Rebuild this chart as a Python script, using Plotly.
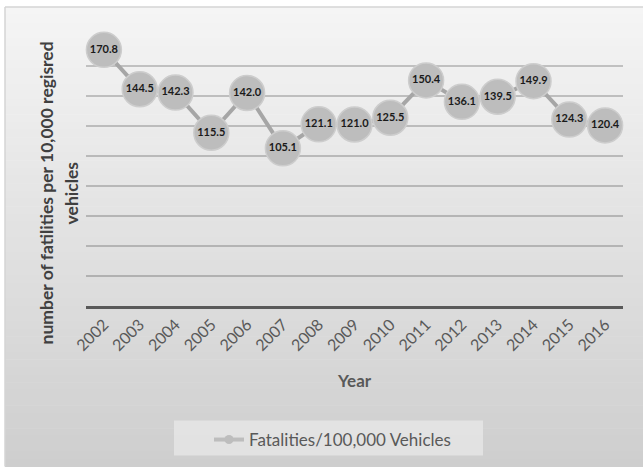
import plotly.graph_objects as go

# Road fatality rate by year
years = ["2002", "2003", "2004", "2005", "2006", "2007", "2008", "2009",
         "2010", "2011", "2012", "2013", "2014", "2015", "2016"]
rates = [170.8, 144.5, 142.3, 115.5, 142.0, 105.1, 121.1, 121.0,
         125.5, 150.4, 136.1, 139.5, 149.9, 124.3, 120.4]
series_name = "Fatalities/100,000 Vehicles"

W, H = 643, 468
L, R, T, B = 86, 20, 36, 161
PW, PH = W - L - R, H - T - B

FONT = "Lato, 'Open Sans', sans-serif"


def px_x(p):
    return (p - L) / PW


def px_y(p):
    return (H - B - p) / PH


def grey(v):
    v = int(round(v))
    return f"rgb({v},{v},{v})"


shapes = []
# vertical gradient for the chart area
top_px, bot_px = 7, 468
c_top, c_bot = 245, 206
n = 60
for i in range(n):
    y0 = top_px + (bot_px - top_px) * i / n
    y1 = top_px + (bot_px - top_px) * (i + 1) / n + 0.6
    c = c_top + (c_bot - c_top) * (i + 0.5) / n
    shapes.append(dict(type="rect", xref="paper", yref="paper", layer="below",
                       x0=px_x(5), x1=px_x(643), y0=px_y(y0), y1=px_y(y1),
                       fillcolor=grey(c), line=dict(width=0)))
# chart border (left and top)
shapes.append(dict(type="line", xref="paper", yref="paper", layer="below",
                   x0=px_x(5), x1=px_x(643), y0=px_y(7), y1=px_y(7),
                   line=dict(color="#d4d4d4", width=1.5)))
shapes.append(dict(type="line", xref="paper", yref="paper", layer="below",
                   x0=px_x(5), x1=px_x(5), y0=px_y(7), y1=px_y(468),
                   line=dict(color="#d4d4d4", width=1.5)))
# legend box
shapes.append(dict(type="rect", xref="paper", yref="paper", layer="below",
                   x0=px_x(174), x1=px_x(483), y0=px_y(422), y1=px_y(457),
                   fillcolor="rgba(232,232,232,0.75)", line=dict(width=0)))

fig = go.Figure()
fig.add_trace(go.Scatter(
    x=years, y=rates, mode="lines+markers+text",
    text=[f"{v:.1f}" for v in rates], textposition="middle center",
    textfont=dict(family=FONT, size=11, color="#1a1a1a", weight="bold"),
    line=dict(color="#a6a6a6", width=4),
    marker=dict(size=35, color="#bdbdbd",
                line=dict(color="#cdcdcd", width=1.5)),
    showlegend=False, cliponaxis=False,
))
# legend entry with a small marker
fig.add_trace(go.Scatter(
    x=[None], y=[None], mode="lines+markers", name=series_name,
    line=dict(color="#bdbdbd", width=4),
    marker=dict(size=9, color="#bdbdbd"),
))

fig.update_layout(
    width=W, height=H,
    margin=dict(l=L, r=R, t=T, b=B),
    paper_bgcolor="white", plot_bgcolor="rgba(0,0,0,0)",
    shapes=shapes,
    showlegend=True,
    legend=dict(orientation="h", x=px_x(209), y=px_y(440), xanchor="left",
                yanchor="middle", bgcolor="rgba(0,0,0,0)",
                font=dict(family=FONT, size=17, color="#595959")),
    xaxis=dict(
        type="category", showgrid=False, zeroline=False,
        showline=True, linecolor="#595959", linewidth=3,
        tickangle=-45, ticks="",
        tickfont=dict(family=FONT, size=16, color="#595959"),
        range=[-0.5, len(years) - 0.5],
    ),
    yaxis=dict(
        range=[0, 180], dtick=20, showticklabels=False, ticks="",
        showgrid=True, gridcolor="rgba(0,0,0,0.2)", gridwidth=1.5,
        zeroline=False, showline=False,
    ),
    annotations=[
        dict(text="<b>Year</b>", xref="paper", yref="paper",
             x=0.5, y=px_y(382), xanchor="center", yanchor="middle",
             showarrow=False,
             font=dict(family=FONT, size=17, color="#595959")),
        dict(text="<b>number of fatilities per 10,000 regisred</b>",
             xref="paper", yref="paper", x=px_x(46), y=px_y(194),
             xanchor="center", yanchor="middle",
             textangle=-90, showarrow=False,
             font=dict(family=FONT, size=17.5, color="#404040")),
        dict(text="<b>vehicles</b>",
             xref="paper", yref="paper", x=px_x(71), y=px_y(194),
             xanchor="center", yanchor="middle",
             textangle=-90, showarrow=False,
             font=dict(family=FONT, size=17.5, color="#404040")),
    ],
)

fig.write_html("out.html")
